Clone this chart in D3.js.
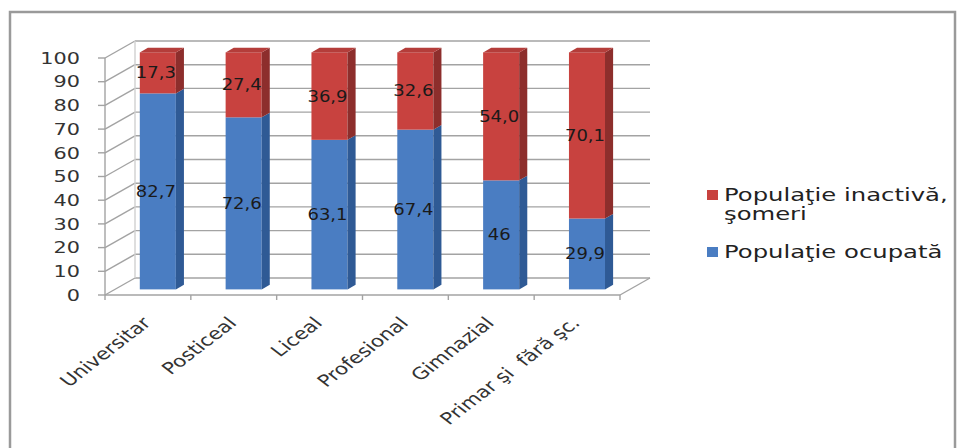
<!DOCTYPE html>
<html>
<head>
<meta charset="utf-8">
<script src="https://cdn.jsdelivr.net/npm/d3@7"></script>
<style>
  html, body { margin: 0; padding: 0; background: #ffffff; }
  svg { display: block; }
  text { font-family: "DejaVu Sans", Verdana, sans-serif; }
</style>
</head>
<body>
<script>
// ---- data ----
const categories = ["Universitar", "Posticeal", "Liceal", "Profesional", "Gimnazial", "Primar şi  fără şc."];
const occupied = [82.7, 72.6, 63.1, 67.4, 46, 29.9];
const inactive = [17.3, 27.4, 36.9, 32.6, 54.0, 70.1];
const occupiedLabels = ["82,7", "72,6", "63,1", "67,4", "46", "29,9"];
const inactiveLabels = ["17,3", "27,4", "36,9", "32,6", "54,0", "70,1"];
const yTicks = [0, 10, 20, 30, 40, 50, 60, 70, 80, 90, 100];
const seriesNames = ["Populaţie inactivă,", "şomeri", "Populaţie ocupată"];

// ---- layout ----
const W = 957, H = 448;
const stretch = 1.3;           // horizontal stretch of the reference text
const depthX = 30, depthY = 17; // 3D depth offset of back wall
const t1 = 0.33, t2 = 0.6;       // bar front/back depth fractions

const svg = d3.select("body").append("svg").attr("width", W).attr("height", H);

// frame
svg.append("rect").attr("x", 10).attr("y", 12).attr("width", 945).attr("height", 460)
  .attr("fill", "#ffffff").attr("stroke", "#9a9a9a").attr("stroke-width", 2.5);

const x = d3.scaleBand().domain(categories).range([105, 620]).paddingInner(0.58).paddingOuter(0.29);
const y = d3.scaleLinear().domain([0, 100]).range([295, 58]);

const grid = svg.append("g").attr("stroke", "#a3a3a3").attr("stroke-width", 1.4).attr("fill", "none");
const x0 = x.range()[0], x1 = x.range()[1];
// back wall gridlines
grid.selectAll("line.h").data(yTicks).join("line").attr("class", "h")
  .attr("x1", x0 + depthX).attr("x2", x1 + depthX)
  .attr("y1", d => y(d) - depthY).attr("y2", d => y(d) - depthY);
// side wall slanted lines
grid.selectAll("line.s").data(yTicks).join("line").attr("class", "s")
  .attr("x1", x0).attr("x2", x0 + depthX)
  .attr("y1", d => y(d)).attr("y2", d => y(d) - depthY);
// back wall left edge
grid.append("line").attr("x1", x0 + depthX).attr("x2", x0 + depthX)
  .attr("y1", y(100) - depthY).attr("y2", y(0) - depthY).attr("stroke", "#d0d0d0");
// vertical axis
grid.append("line").attr("x1", x0).attr("x2", x0).attr("y1", y(100)).attr("y2", y(0));
// y ticks
grid.selectAll("line.t").data(yTicks).join("line").attr("class", "t")
  .attr("x1", x0 - 7).attr("x2", x0).attr("y1", d => y(d)).attr("y2", d => y(d));
// floor front edge & right edge
grid.append("line").attr("x1", x0).attr("x2", x1).attr("y1", y(0)).attr("y2", y(0));
grid.append("line").attr("x1", x1).attr("x2", x1 + depthX).attr("y1", y(0)).attr("y2", y(0) - depthY);
// category ticks at band boundaries
const boundaries = d3.range(categories.length + 1).map(i => x0 + i * x.step());
grid.selectAll("line.c").data(boundaries).join("line").attr("class", "c")
  .attr("x1", d => d).attr("x2", d => d).attr("y1", y(0)).attr("y2", y(0) + 5);

// y tick labels
svg.append("g").selectAll("text").data(yTicks).join("text")
  .attr("transform", d => `translate(80,${y(d)}) scale(${stretch},1)`)
  .attr("text-anchor", "end").attr("dy", "0.36em")
  .attr("font-size", 16).attr("fill", "#333")
  .text(d => d);

// bars
const sx = depthX * (t2 - t1), sy = depthY * (t2 - t1);
const bw = x.bandwidth();
const colors = {
  occ: { front: "#4a7dc2", side: "#2f5a95", top: "#6f98d0" },
  ina: { front: "#c8423f", side: "#8d2e2c", top: "#b43d3a" }
};
const segs = [];
categories.forEach((c, i) => {
  segs.push({ c, v0: 0, v1: occupied[i], col: colors.occ, top: false, label: occupiedLabels[i] });
  segs.push({ c, v0: occupied[i], v1: occupied[i] + inactive[i], col: colors.ina, top: true, label: inactiveLabels[i] });
});
const bars = svg.append("g");
segs.forEach(s => {
  const bx = x(s.c) + depthX * t1;
  const yt = y(s.v1) - depthY * t1;
  const yb = y(s.v0) - depthY * t1;
  bars.append("rect").attr("x", bx).attr("y", yt).attr("width", bw).attr("height", yb - yt)
    .attr("fill", s.col.front);
  bars.append("polygon")
    .attr("points", [[bx + bw, yt], [bx + bw + sx, yt - sy], [bx + bw + sx, yb - sy], [bx + bw, yb]].join(" "))
    .attr("fill", s.col.side);
  if (s.top) {
    bars.append("polygon")
      .attr("points", [[bx, yt], [bx + sx, yt - sy], [bx + bw + sx, yt - sy], [bx + bw, yt]].join(" "))
      .attr("fill", s.col.top);
  }
});
// value labels
svg.append("g").selectAll("text").data(segs).join("text")
  .attr("transform", s => `translate(${x(s.c) + depthX * t1 + bw / 2 - 2},${(y(s.v0) + y(s.v1)) / 2 - depthY * t1}) scale(1.2,1)`)
  .attr("text-anchor", "middle").attr("dy", "0.36em")
  .attr("font-size", 15).attr("fill", "#1a1a1a")
  .text(s => s.label);

// category labels
svg.append("g").selectAll("text").data(categories).join("text")
  .attr("transform", c => `translate(${x(c) + bw / 2 + 4},324) scale(${stretch},1) rotate(-45)`)
  .attr("text-anchor", "end").attr("font-size", 16.5).attr("fill", "#333")
  .style("white-space", "pre")
  .text(c => c);

// legend
const lg = svg.append("g");
lg.append("rect").attr("x", 707).attr("y", 190).attr("width", 11).attr("height", 10).attr("fill", colors.ina.front);
lg.append("rect").attr("x", 707).attr("y", 247).attr("width", 11).attr("height", 10).attr("fill", colors.occ.front);
const legText = [[seriesNames[0], 201], [seriesNames[1], 220], [seriesNames[2], 258]];
lg.selectAll("text").data(legText).join("text")
  .attr("transform", d => `translate(724,${d[1]}) scale(1.35,1)`)
  .attr("font-size", 18).attr("fill", "#222")
  .text(d => d[0]);
</script>
</body>
</html>
